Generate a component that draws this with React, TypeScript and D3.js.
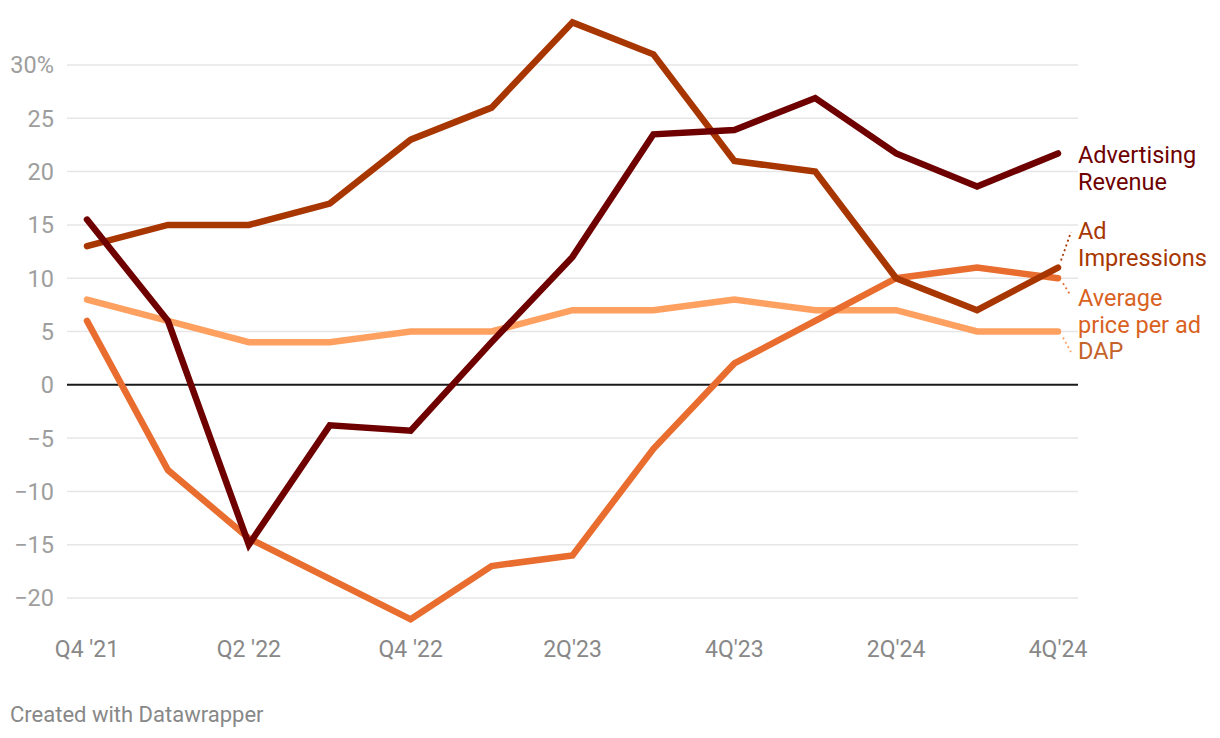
import React from "react";
import * as d3 from "d3";

const quarters = ["Q4 '21","Q1 '22","Q2 '22","Q3 '22","Q4 '22","Q1 '23","2Q'23","3Q'23","4Q'23","1Q'24","2Q'24","3Q'24","4Q'24"];
const xTickLabels = ["Q4 '21","Q2 '22","Q4 '22","2Q'23","4Q'23","2Q'24","4Q'24"];
const yTicks = [30, 25, 20, 15, 10, 5, 0, -5, -10, -15, -20];

const advertisingRevenue = [15.5, 6, -15, -3.8, -4.3, 4, 12, 23.5, 23.9, 26.9, 21.7, 18.6, 21.7];
const adImpressions = [13, 15, 15, 17, 23, 26, 34, 31, 21, 20, 10, 7, 11];
const avgPricePerAd = [6, -8, -14.4, -18.2, -22, -17, -16, -6, 2, 6, 10, 11, 10];
const dap = [8, 6, 4, 4, 5, 5, 7, 7, 8, 7, 7, 5, 5];

const seriesNames = ["Advertising Revenue", "Ad Impressions", "Average price per ad", "DAP"];
const lineColors = ["#6e0000", "#a83600", "#e86d2f", "#fea060"];
const labelColors = ["#6e0000", "#a83600", "#d9621f", "#c4632a"];

export default function App() {
  const width = 1220, height = 738;
  const x = d3.scalePoint<string>().domain(quarters).range([87, 1058]);
  const y = d3.scaleLinear().domain([-20, 30]).range([598, 65]);
  const gridX0 = 67, gridX1 = 1078;
  const font = "Roboto, 'Noto Sans', sans-serif";
  const seriesData = [advertisingRevenue, adImpressions, avgPricePerAd, dap];
  const line = d3.line<number>().x((_, i) => x(quarters[i])!).y(d => y(d));
  const drawOrder = [3, 2, 1, 0];

  const lastX = x(quarters[quarters.length - 1])!;
  const labelX = 1078;
  const labels = [
    { lines: ["Advertising", "Revenue"], y0: 163, connector: null as null | [number, number, number, number] },
    { lines: ["Ad", "Impressions"], y0: 239, connector: [lastX + 3, y(adImpressions[12]) - 7, 1071, 232] as [number, number, number, number] },
    { lines: ["Average", "price per ad"], y0: 306, connector: [lastX + 5, y(avgPricePerAd[12]) + 5, 1071, 296] as [number, number, number, number] },
    { lines: ["DAP"], y0: 359, connector: [lastX + 5, y(dap[12]) + 6, 1071, 352] as [number, number, number, number] },
  ];

  return (
    <svg width={width} height={height} style={{ display: "block", position: "absolute", left: 0, top: 0, background: "#fff" }}>
      {yTicks.map(t => (
        <g key={t}>
          <line x1={gridX0} x2={gridX1} y1={y(t)} y2={y(t)} stroke={t === 0 ? "#1a1a1a" : "#e6e6e6"} strokeWidth={t === 0 ? 2 : 1.5} />
          <text x={54} y={y(t)} dy="0.36em" textAnchor="end" fontFamily={font} fontSize={23.5} fill="#9e9e9e">
            {t === 30 ? "30%" : t < 0 ? `\u2212${Math.abs(t)}` : t}
          </text>
        </g>
      ))}
      {xTickLabels.map((q) => (
        <text key={q} x={x(q)!} y={657} textAnchor="middle"
          fontFamily={font} fontSize={23} fill="#888">{q}</text>
      ))}
      {drawOrder.map(si => (
        <path key={si} d={line(seriesData[si]) || ""} fill="none" stroke={lineColors[si]} strokeWidth={6.5}
          strokeLinecap="round" strokeLinejoin="miter" />
      ))}
      {labels.map((l, si) => (
        <g key={si}>
          {l.connector && (
            <line x1={l.connector[0]} y1={l.connector[1]} x2={l.connector[2]} y2={l.connector[3]}
              stroke={lineColors[si]} strokeWidth={1.8} strokeDasharray="2,3" />
          )}
          {l.lines.map((t, j) => (
            <text key={j} x={labelX} y={l.y0 + j * 27} fontFamily={font} fontSize={23.5} fill={labelColors[si]}>{t}</text>
          ))}
        </g>
      ))}
      <text x={10} y={722} fontFamily={font} fontSize={22} fill="#888">Created with Datawrapper</text>
    </svg>
  );
}
